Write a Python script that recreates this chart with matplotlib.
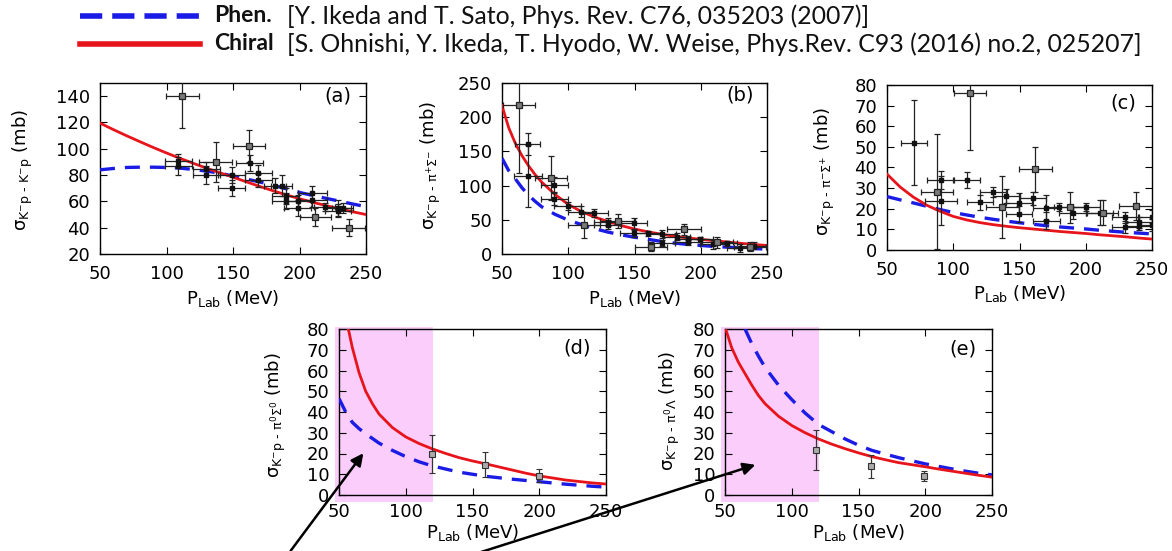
import matplotlib
matplotlib.use('Agg')
import matplotlib.pyplot as plt
from matplotlib.patches import Rectangle, FancyArrowPatch
from matplotlib.lines import Line2D

plt.rcParams['font.family'] = ['DejaVu Sans']
plt.rcParams['mathtext.fontset'] = 'dejavusans'

# ---------------- data ----------------
# panel (a)  K-p -> K-p
a_x = [50, 60, 70, 80, 90, 100, 110, 120, 130, 140, 150, 160, 170, 180, 190, 200, 210, 220, 230, 240, 250]
a_chiral = [119.5, 114.6, 109.9, 105.4, 101, 96.8, 92.8, 89, 85.3, 81.8, 78.4, 74.9, 71.4, 68.1, 65, 62, 59.3, 56.8, 54.4, 52.1, 50]
a_phen = [84, 85, 85.8, 86, 86, 85.8, 85.3, 84.3, 83, 81.5, 79.3, 77, 74.8, 72.3, 69.6, 66.8, 64.5, 62.3, 60.2, 58, 56]
a_sq_x = [112, 137, 162, 212, 237]
a_sq_y = [140, 90, 102, 48, 40]
a_sq_xerr = [12.5, 12.5, 12, 12, 12.5]
a_sq_yerr = [24, 15, 12, 7, 6.6]
a_pt_x = [109, 109, 130, 130, 149, 149, 162.5, 169, 169, 181.5, 186.5, 189.5, 189.5, 198.5, 198.5, 209.5, 209.5, 219, 229, 229, 232.5]
a_pt_y = [91, 87, 85, 80, 80, 70, 89, 81.5, 76, 72, 72, 64, 60, 60, 55, 66, 61, 56, 55, 53, 55]
a_pt_xerr = [10, 10, 10, 10, 10, 10, 10, 10, 10, 8, 8, 10, 10, 10, 10, 11, 11, 8, 10, 10, 8]
a_pt_yerr = [5, 7, 5, 7, 6, 6, 6, 6, 5, 6, 8, 6, 6, 5, 6, 6, 5, 3, 6, 5, 4]

# panel (b)  K-p -> pi+ Sigma-
b_x = [50, 55, 60, 65, 70, 75, 80, 90, 100, 110, 120, 130, 140, 150, 160, 170, 180, 190, 200, 210, 220, 230, 240, 250]
b_chiral = [217, 185, 162, 144, 129, 116, 105, 87, 72.5, 62, 54, 47.5, 41.5, 36.5, 32.5, 29, 26, 23.5, 21.5, 19.5, 17.5, 15.7, 14, 12.5]
b_phen = [140, 122, 110, 97, 86, 77, 69, 58, 49.5, 43, 37, 32, 28, 24.5, 21.5, 18.5, 16, 14, 12.5, 11, 10, 9, 8, 7]
b_sq_x = [62.6, 87.2, 112, 137.3, 162.2, 187.4, 212.5, 237]
b_sq_y = [218, 111, 42, 48.7, 10.7, 36.5, 17, 10.7]
b_sq_xerr = [12, 12, 12, 13, 12, 12.5, 12, 12]
b_sq_yerr = [100, 32, 19, 10, 7, 8, 8, 7]
b_pt_x = [69.4, 69.4, 89.5, 89.5, 99.6, 109.6, 119.7, 129.8, 129.8, 149.4, 149.4, 160, 170.5, 170.5, 181.8, 190.6, 190.6, 199.4, 209.5, 219.6, 229.6, 240]
b_pt_y = [161, 114, 101, 81, 70, 62, 60, 47, 43, 45, 30, 30, 29, 16, 25, 21.5, 17, 21.5, 14, 15.6, 8.3, 12]
b_pt_xerr = [9.5, 10.5, 10, 10, 10, 10, 10, 10, 10, 10, 10, 10, 10.5, 10, 10, 10, 10, 10, 10, 8, 10, 10]
b_pt_yerr = [16, 45, 12, 10, 6, 8, 6, 6, 6, 8, 5, 4, 6, 5, 5, 5, 4, 4, 6, 4, 6, 5]

# panel (c)  K-p -> pi- Sigma+
c_x = [50, 60, 70, 80, 90, 100, 110, 120, 130, 140, 150, 160, 170, 180, 190, 200, 210, 220, 230, 240, 250]
c_chiral = [36.8, 30.5, 25.6, 21.7, 18.8, 16.3, 14.6, 13.3, 12.3, 11.5, 10.8, 10.2, 9.6, 9.0, 8.5, 8.0, 7.4, 6.9, 6.4, 5.8, 5.3]
c_phen = [25.9, 24.3, 22.8, 21.2, 19.6, 18.2, 17, 15.9, 14.9, 14, 13.2, 12.5, 11.8, 11.2, 10.7, 10.2, 9.6, 9.1, 8.6, 8.2, 7.8]
c_sq_x = [88, 112.4, 137, 161.9, 187.8, 212.7, 237.9]
c_sq_y = [28.3, 76, 21, 39.1, 20.7, 18.1, 21.5]
c_sq_xerr = [12, 12, 12.5, 12.5, 12, 12, 12.5]
c_sq_yerr = [28, 27.5, 15, 11, 7.6, 6, 6.8]
c_pt_x = [70.4, 90.5, 90.5, 110, 120.2, 130.2, 140, 149.6, 149.6, 160.2, 170.2, 170.2, 179.5, 190, 200.4, 210.4, 229.8, 229.8, 240.4, 240.4, 250, 250]
c_pt_y = [52, 34, 23.9, 34, 23.1, 28, 26.2, 22.6, 17.5, 25, 20.5, 14.2, 20.7, 17.8, 20.7, 18.1, 15.8, 11.3, 13.4, 11.8, 16.2, 12]
c_pt_xerr = [10, 10, 12, 10, 10, 10, 10, 10, 10, 10, 10, 10, 10, 10, 10, 10, 10, 10, 10, 10, 10, 10]
c_pt_yerr = [20.5, 4.5, 12, 4, 3.5, 2.5, 3.5, 5, 4, 3, 6, 4, 2, 3, 2, 6, 2.5, 3, 2.5, 2, 3, 3]

# panel (d)  K-p -> pi0 Sigma0
d_chiral_x = [57, 60, 65, 70, 75, 80, 90, 100, 110, 120, 130, 140, 150, 160, 170, 180, 190, 200, 210, 220, 230, 240, 250]
d_chiral = [80, 71, 59, 50, 44, 39, 32.5, 28, 24.8, 22.2, 20, 18, 16.4, 15, 13.5, 12, 10.5, 9.2, 8.2, 7.2, 6.5, 5.8, 5.3]
d_phen_x = [50, 55, 60, 65, 70, 80, 90, 100, 110, 120, 130, 140, 150, 160, 170, 180, 190, 200, 210, 220, 230, 240, 250]
d_phen = [46.5, 40, 35, 32, 29.5, 25, 21.5, 18.5, 16, 14, 12.5, 11, 10, 9, 8.3, 7.6, 7, 6.4, 5.8, 5.2, 4.7, 4.2, 3.8]
d_pts_x = [119.5, 159.5, 199.5]
d_pts_y = [19.8, 14.5, 9.3]
d_pts_yerr = [9.3, 6, 3]

# panel (e)  K-p -> pi0 Lambda
e_chiral_x = [50, 55, 60, 65, 70, 75, 80, 90, 100, 110, 120, 130, 140, 150, 160, 170, 180, 190, 200, 210, 220, 230, 240, 250]
e_chiral = [81, 71, 64, 58.5, 53, 48, 44, 38, 33.5, 30, 27, 24.5, 22.3, 20.3, 18.5, 17, 15.6, 14.6, 13.6, 12.5, 11.5, 10.5, 9.5, 8.6]
e_phen_x = [65, 70, 75, 80, 90, 100, 110, 120, 130, 140, 150, 160, 170, 180, 190, 200, 210, 220, 230, 240, 250]
e_phen = [80, 73, 67, 61.5, 53, 46, 39.5, 34, 30.5, 27, 24, 21.5, 19.7, 18, 16.5, 15, 13.8, 12.6, 11.5, 10.5, 9.7]
e_pts_x = [118, 159.3, 199]
e_pts_y = [21.7, 13.8, 9.2]
e_pts_yerr = [9.5, 5.6, 2.5]

shade_range = [47, 120.5]

legend_labels = ['Phen.', 'Chiral']
legend_refs = ['[Y. Ikeda and T. Sato, Phys. Rev. C76, 035203 (2007)]',
               '[S. Ohnishi, Y. Ikeda, T. Hyodo, W. Weise, Phys.Rev. C93 (2016) no.2, 025207]']

ylabels = [r'$\mathrm{\sigma}_{\mathrm{K^{-}p\ ‐\ K^{-}p}}$ (mb)',
           r'$\mathrm{\sigma}_{\mathrm{K^{-}p\ ‐\ \pi^{+}\Sigma^{-}}}$ (mb)',
           r'$\mathrm{\sigma}_{\mathrm{K^{-}p\ ‐\ \pi^{-}\Sigma^{+}}}$ (mb)',
           r'$\mathrm{\sigma}_{\mathrm{K^{-}p\ ‐\ \pi^{0}\Sigma^{0}}}$ (mb)',
           r'$\mathrm{\sigma}_{\mathrm{K^{-}p\ ‐\ \pi^{0}\Lambda}}$ (mb)']
panel_tags = ['(a)', '(b)', '(c)', '(d)', '(e)']
xlabel = r'P$_{\mathrm{Lab}}$ (MeV)'

# ---------------- styling ----------------
RED = '#e8141b'
BLUE = '#1b1be6'
W, H = 1172, 551
FS = 13

fig = plt.figure(figsize=(W / 100, H / 100), dpi=100)


def px_axes(l, r, t, b):
    return fig.add_axes([l / W, 1 - b / H, (r - l) / W, (b - t) / H])


def style(ax, ylim, yticks, ylab, tag, ylab_x, ylab_y, xlab_y, xpad, tagxy):
    ax.set_xlim(50, 250)
    ax.set_ylim(*ylim)
    ax.set_xticks([50, 100, 150, 200, 250])
    ax.set_yticks(yticks)
    ax.tick_params(direction='in', top=True, right=True, length=5, width=0.8,
                   labelsize=FS)
    ax.tick_params(axis='x', pad=xpad)
    ax.tick_params(axis='y', pad=7)
    for s in ax.spines.values():
        s.set_linewidth(1.0)
    ax.set_ylabel(ylab, fontsize=FS)
    ax.yaxis.set_label_coords(ylab_x, ylab_y)
    ax.set_xlabel(xlabel, fontsize=FS)
    ax.xaxis.set_label_coords(0.5, xlab_y)
    ax.text(tagxy[0], tagxy[1], tag, transform=ax.transAxes, fontsize=14,
            ha='center', va='center')


def curves(ax, xc, yc, xp, yp):
    ax.plot(xp, yp, color=BLUE, lw=2.4, dashes=(4.5, 3), zorder=3)
    ax.plot(xc, yc, color=RED, lw=2.0, zorder=4)


def points(ax, x, y, xerr, yerr, big):
    if big:
        ax.errorbar(x, y, xerr=xerr, yerr=yerr, fmt='s', ms=5, mfc='#7a7a7a',
                    mec='#222222', mew=0.9, ecolor='#222222', elinewidth=0.9,
                    capsize=2, capthick=0.9, zorder=5)
    else:
        ax.errorbar(x, y, xerr=xerr, yerr=yerr, fmt='s', ms=3, mfc='#111111',
                    mec='#111111', ecolor='#222222', elinewidth=0.9,
                    capsize=2, capthick=0.9, zorder=5)


# (a)
ax = px_axes(100, 366, 83, 254)
curves(ax, a_x, a_chiral, a_x, a_phen)
points(ax, a_pt_x, a_pt_y, a_pt_xerr, a_pt_yerr, False)
points(ax, a_sq_x, a_sq_y, a_sq_xerr, a_sq_yerr, True)
style(ax, (20, 150), [20, 40, 60, 80, 100, 120, 140], ylabels[0], panel_tags[0],
      -0.244, 0.49, -0.2, 8, (0.895, 0.925))

# (b)
ax = px_axes(502, 767, 83, 254)
curves(ax, b_x, b_chiral, b_x, b_phen)
points(ax, b_pt_x, b_pt_y, b_pt_xerr, b_pt_yerr, False)
points(ax, b_sq_x, b_sq_y, b_sq_xerr, b_sq_yerr, True)
style(ax, (0, 250), [0, 50, 100, 150, 200, 250], ylabels[1], panel_tags[1],
      -0.223, 0.52, -0.2, 8, (0.898, 0.93))

# (c)
ax = px_axes(887, 1152, 85, 250)
curves(ax, c_x, c_chiral, c_x, c_phen)
points(ax, c_pt_x, c_pt_y, c_pt_xerr, c_pt_yerr, False)
points(ax, c_sq_x, c_sq_y, c_sq_xerr, c_sq_yerr, True)
style(ax, (0, 80), list(range(0, 81, 10)), ylabels[2], panel_tags[2],
      -0.189, 0.476, -0.2, 8, (0.89, 0.89))

# (d)
ax = px_axes(339, 606, 329, 495)
ax.add_patch(Rectangle((shade_range[0], -3.2), shade_range[1] - shade_range[0], 84,
                       facecolor='#fbcdfb', edgecolor='none', clip_on=False, zorder=0))
curves(ax, d_chiral_x, d_chiral, d_phen_x, d_phen)
ax.errorbar(d_pts_x, d_pts_y, yerr=d_pts_yerr, fmt='s', ms=4, mfc='#aaaaaa',
            mec='#333333', mew=0.8, ecolor='#333333', elinewidth=0.9,
            capsize=2, capthick=0.9, zorder=5)
style(ax, (0, 80), list(range(0, 81, 10)), ylabels[3], panel_tags[3],
      -0.191, 0.48, -0.16, 6, (0.89, 0.885))

# (e)
ax = px_axes(725, 992, 329, 495)
ax.add_patch(Rectangle((shade_range[0], -3.2), shade_range[1] - shade_range[0], 84,
                       facecolor='#fbcdfb', edgecolor='none', clip_on=False, zorder=0))
curves(ax, e_chiral_x, e_chiral, e_phen_x, e_phen)
ax.errorbar(e_pts_x, e_pts_y, yerr=e_pts_yerr, fmt='s', ms=4, mfc='#aaaaaa',
            mec='#333333', mew=0.8, ecolor='#333333', elinewidth=0.9,
            capsize=2, capthick=0.9, zorder=5)
style(ax, (0, 80), list(range(0, 81, 10)), ylabels[4], panel_tags[4],
      -0.161, 0.51, -0.16, 6, (0.89, 0.88))

# ---------------- legend (figure level) ----------------
LEG_FAMILY = ['Lato', 'DejaVu Sans']
fig.add_artist(Line2D([80 / W, 200 / W], [1 - 16 / H, 1 - 16 / H], color=BLUE, lw=4,
                      dashes=(4.0, 1.8)))
fig.add_artist(Line2D([80 / W, 200 / W], [1 - 44 / H, 1 - 44 / H], color=RED, lw=4))
renderer = fig.canvas.get_renderer()
probe = fig.text(0, 0, legend_refs[1], fontsize=10, family=LEG_FAMILY)
leg_fs = 10 * 853.0 / probe.get_window_extent(renderer).width
probe.remove()
bold_fs = leg_fs * 0.92
for i, yy in enumerate([16, 44]):
    fig.text(214 / W, 1 - yy / H, legend_labels[i], fontsize=bold_fs, fontweight='bold',
             family=LEG_FAMILY, va='center', ha='left', color='#111111')
    fig.text(287 / W, 1 - yy / H, legend_refs[i], fontsize=leg_fs,
             family=LEG_FAMILY, va='center', ha='left', color='#111111')

# ---------------- arrows ----------------
for (x0, y0), (x1, y1) in [((289, 553), (365, 451)), ((478, 553), (758, 464))]:
    fig.add_artist(FancyArrowPatch((x0 / W, 1 - y0 / H), (x1 / W, 1 - y1 / H),
                                   transform=fig.transFigure, arrowstyle='-|>',
                                   mutation_scale=18, lw=1.8, color='black'))

fig.savefig('out.png', dpi=100)
